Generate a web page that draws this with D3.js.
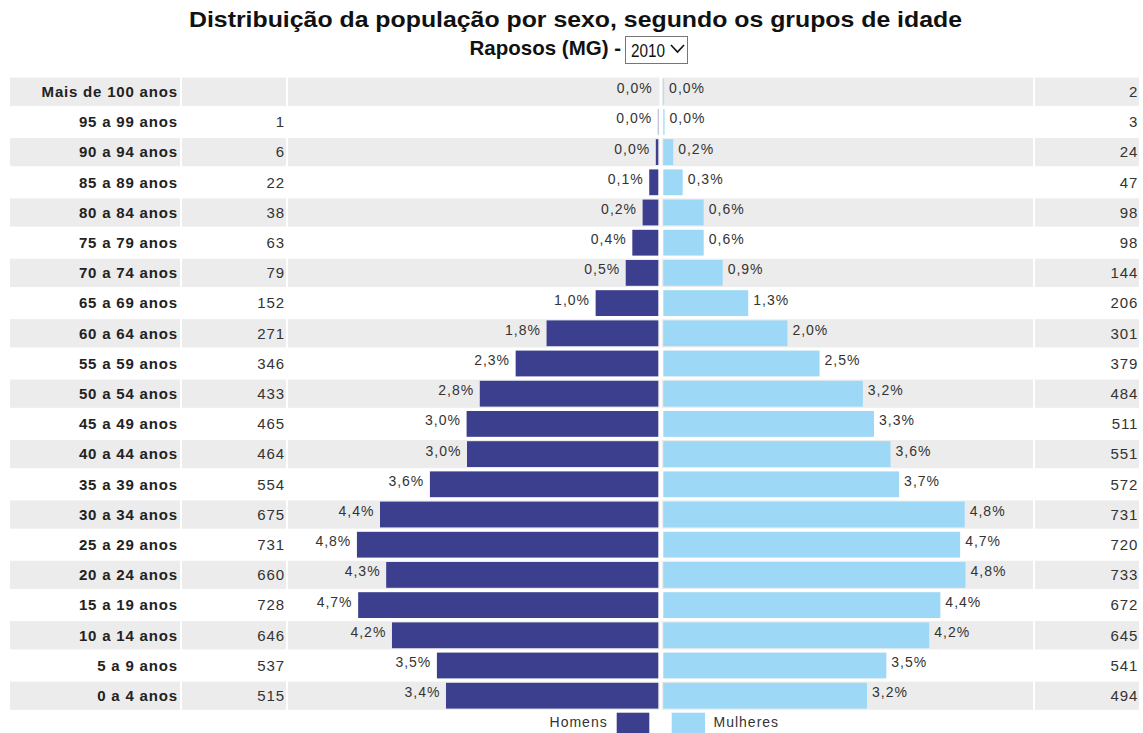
<!DOCTYPE html>
<html>
<head>
<meta charset="utf-8">
<script src="https://cdn.jsdelivr.net/npm/d3@7"></script>
<style>
  body { margin: 0; background: #fff; }
  text { font-family: "Liberation Sans", Arial, sans-serif; }
</style>
</head>
<body>
<script>
// Data
var ages = ["Mais de 100 anos", "95 a 99 anos", "90 a 94 anos", "85 a 89 anos", "80 a 84 anos",
            "75 a 79 anos", "70 a 74 anos", "65 a 69 anos", "60 a 64 anos", "55 a 59 anos",
            "50 a 54 anos", "45 a 49 anos", "40 a 44 anos", "35 a 39 anos", "30 a 34 anos",
            "25 a 29 anos", "20 a 24 anos", "15 a 19 anos", "10 a 14 anos", "5 a 9 anos", "0 a 4 anos"];
var homens = [0, 1, 6, 22, 38, 63, 79, 152, 271, 346, 433, 465, 464, 554, 675, 731, 660, 728, 646, 537, 515];
var mulheres = [2, 3, 24, 47, 98, 98, 144, 206, 301, 379, 484, 511, 551, 572, 731, 720, 733, 672, 645, 541, 494];
var homensPct = ["0,0%", "0,0%", "0,0%", "0,1%", "0,2%", "0,4%", "0,5%", "1,0%", "1,8%", "2,3%",
                 "2,8%", "3,0%", "3,0%", "3,6%", "4,4%", "4,8%", "4,3%", "4,7%", "4,2%", "3,5%", "3,4%"];
var mulheresPct = ["0,0%", "0,0%", "0,2%", "0,3%", "0,6%", "0,6%", "0,9%", "1,3%", "2,0%", "2,5%",
                   "3,2%", "3,3%", "3,6%", "3,7%", "4,8%", "4,7%", "4,8%", "4,4%", "4,2%", "3,5%", "3,2%"];
var homensCount = ["", "1", "6", "22", "38", "63", "79", "152", "271", "346", "433", "465", "464",
                   "554", "675", "731", "660", "728", "646", "537", "515"];
var ano = "2010";
var local = "Raposos (MG) -";

var WIDTH = 1143, HEIGHT = 733;
var corHomens = "#3b3f8e", corMulheres = "#9dd8f6", corLinha = "#ececec";

var svg = d3.select("body").append("svg").attr("width", WIDTH).attr("height", HEIGHT);

// Title
svg.append("text").attr("x", 189).attr("y", 27)
    .attr("font-size", "22px").attr("font-weight", "bold").attr("fill", "#111")
    .attr("textLength", 773).attr("lengthAdjust", "spacingAndGlyphs")
    .text("Distribuição da população por sexo, segundo os grupos de idade");
svg.append("text").attr("x", 621).attr("y", 55).attr("text-anchor", "end")
    .attr("font-size", "20.5px").attr("font-weight", "bold").attr("fill", "#111")
    .text(local);

// fake select box
svg.append("rect").attr("x", 625.5).attr("y", 36.5).attr("width", 62).attr("height", 27)
    .attr("fill", "#fff").attr("stroke", "#767676");
svg.append("text").attr("x", 631).attr("y", 57)
    .attr("font-size", "18px").attr("fill", "#111")
    .attr("textLength", 34).attr("lengthAdjust", "spacingAndGlyphs").text(ano);
svg.append("path").attr("d", "M671,45 L677.5,52 L684,45").attr("fill", "none")
    .attr("stroke", "#111").attr("stroke-width", 1.6);

// rows
var y = d3.scaleBand().domain(ages).range([76.6, 76.6 + 30.2 * ages.length]).paddingInner(0.066).paddingOuter(0.033);

// columns (cells)
var cells = [
    {x0: 10, x1: 180},
    {x0: 182, x1: 286},
    {x0: 288, x1: 659.5},
    {x0: 661.8, x1: 1033},
    {x0: 1035, x1: 1139}
];

var centroH = 658.3, centroM = 663.3;
var x = d3.scaleLinear().domain([0, 733]).range([0, 302.2]);

var rows = svg.selectAll("g.row").data(ages).enter().append("g").attr("class", "row")
    .attr("transform", function(d) { return "translate(0," + y(d) + ")"; });

rows.each(function(d, i) {
    var g = d3.select(this);
    if (i % 2 == 0) {
        cells.forEach(function(c) {
            g.append("rect").attr("x", c.x0).attr("y", 0).attr("width", c.x1 - c.x0)
                .attr("height", y.bandwidth()).attr("fill", corLinha);
        });
    }
});

var bh = y.bandwidth() - 2.4;
var mid = y.bandwidth() / 2;

// male bars
rows.append("rect")
    .attr("x", function(d, i) { return centroH - x(homens[i]); })
    .attr("y", mid - bh / 2)
    .attr("width", function(d, i) { return x(homens[i]); })
    .attr("height", bh)
    .attr("fill", corHomens);

// female bars
rows.append("rect")
    .attr("x", centroM)
    .attr("y", mid - bh / 2)
    .attr("width", function(d, i) { return x(mulheres[i]); })
    .attr("height", bh)
    .attr("fill", corMulheres);

// age labels
rows.append("text").attr("x", 177.8).attr("y", mid).attr("dy", "0.35em")
    .attr("text-anchor", "end").attr("font-size", "15px").attr("font-weight", "bold").attr("fill", "#222")
    .attr("letter-spacing", 0.8)
    .text(function(d) { return d; });

// counts
rows.append("text").attr("x", 285).attr("y", mid).attr("dy", "0.35em")
    .attr("text-anchor", "end").attr("font-size", "15px").attr("fill", "#333")
    .attr("letter-spacing", 0.9)
    .text(function(d, i) { return homensCount[i]; });
rows.append("text").attr("x", 1138.3).attr("y", mid).attr("dy", "0.35em")
    .attr("text-anchor", "end").attr("font-size", "15px").attr("fill", "#333")
    .attr("letter-spacing", 0.9)
    .text(function(d, i) { return mulheres[i]; });

// percent labels
rows.append("text")
    .attr("x", function(d, i) { return centroH - x(homens[i]) - 5.6; })
    .attr("y", mid + 1.5)
    .attr("text-anchor", "end").attr("font-size", "14px").attr("fill", "#333")
    .attr("letter-spacing", 1)
    .text(function(d, i) { return homensPct[i]; });
rows.append("text")
    .attr("x", function(d, i) { return centroM + x(mulheres[i]) + 5; })
    .attr("y", mid + 1.5)
    .attr("font-size", "14px").attr("fill", "#333")
    .attr("letter-spacing", 1)
    .text(function(d, i) { return mulheresPct[i]; });

// legend
svg.append("text").attr("x", 607.7).attr("y", 727).attr("text-anchor", "end")
    .attr("font-size", "14px").attr("fill", "#333").attr("letter-spacing", 1).text("Homens");
svg.append("rect").attr("x", 616.7).attr("y", 712.7).attr("width", 32.6).attr("height", 24).attr("fill", corHomens);
svg.append("rect").attr("x", 671.7).attr("y", 712.7).attr("width", 33.3).attr("height", 24).attr("fill", corMulheres);
svg.append("text").attr("x", 713.5).attr("y", 727)
    .attr("font-size", "14px").attr("fill", "#333").attr("letter-spacing", 1).text("Mulheres");
</script>
</body>
</html>
